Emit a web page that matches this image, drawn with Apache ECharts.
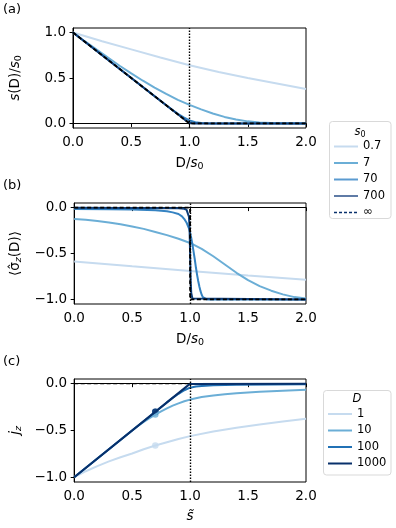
<!DOCTYPE html>
<html>
<head>
<meta charset="utf-8">
<script src="https://cdn.jsdelivr.net/npm/echarts@6/dist/echarts.min.js"></script>
<style>
  html, body { margin: 0; padding: 0; background: #fff; }
  #chart { width: 396px; height: 528px; }
</style>
</head>
<body>
<div id="chart"></div>
<script>
// 数据 (a) s(D)/s0 对 D/s0
const a_s07 = [[0,1],[0.25,0.905],[0.5,0.815],[0.75,0.725],[1,0.64],[1.25,0.565],[1.5,0.5],[1.75,0.44],[2,0.38]]
const a_s7 = [[0,1],[0.1,0.905],[0.2,0.815],[0.3,0.725],[0.4,0.635],[0.5,0.55],[0.6,0.47],[0.7,0.395],[0.8,0.325],[0.9,0.26],[1,0.205],[1.1,0.155],[1.2,0.11],[1.3,0.072],[1.4,0.043],[1.5,0.023],[1.6,0.011],[1.7,0.005],[1.8,0.002],[1.9,0.001],[2,0]]
const a_s70 = [[0,1],[0.8,0.2],[0.85,0.152],[0.9,0.107],[0.95,0.066],[1,0.034],[1.05,0.014],[1.1,0.005],[1.15,0.001],[1.2,0],[2,0]]
const a_s700 = [[0,1],[0.96,0.04],[0.98,0.022],[1,0.008],[1.02,0.002],[1.04,0],[2,0]]
const a_inf = [[0,1],[1,0],[2,0]]

// 数据 (b) <sigma_z(D)>
const b_s07 = [[0,-0.587],[0.5,-0.64],[1,-0.69],[1.5,-0.74],[2,-0.786]]
const b_s7 = [[0,-0.125],[0.1,-0.133],[0.2,-0.145],[0.3,-0.162],[0.4,-0.182],[0.5,-0.205],[0.6,-0.232],[0.7,-0.265],[0.8,-0.3],[0.9,-0.34],[1,-0.385],[1.1,-0.45],[1.2,-0.53],[1.3,-0.62],[1.4,-0.71],[1.5,-0.79],[1.6,-0.855],[1.7,-0.905],[1.8,-0.945],[1.9,-0.975],[2,-0.99]]
const b_s70 = [[0,-0.015],[0.3,-0.017],[0.5,-0.02],[0.7,-0.03],[0.8,-0.04],[0.85,-0.052],[0.9,-0.07],[0.93,-0.095],[0.95,-0.125],[0.97,-0.165],[0.99,-0.225],[1,-0.27],[1.01,-0.33],[1.02,-0.4],[1.03,-0.48],[1.04,-0.56],[1.05,-0.65],[1.06,-0.73],[1.07,-0.8],[1.08,-0.86],[1.09,-0.91],[1.1,-0.95],[1.11,-0.975],[1.12,-0.99],[1.14,-0.998],[1.16,-1],[2,-1]]
const b_s700 = [[0,-0.002],[0.9,-0.006],[0.95,-0.013],[0.97,-0.025],[0.98,-0.045],[0.99,-0.1],[0.995,-0.2],[1,-0.5],[1.005,-0.8],[1.01,-0.93],[1.02,-0.99],[1.03,-1],[2,-1]]
const b_inf = [[0,0],[1,0],[1,-1],[2,-1]]

// 数据 (c) j_z 对 s~
const c_d1 = [[0,-1],[0.1,-0.935],[0.2,-0.88],[0.3,-0.83],[0.4,-0.785],[0.5,-0.745],[0.6,-0.7],[0.7,-0.66],[0.8,-0.625],[0.9,-0.59],[1,-0.56],[1.2,-0.51],[1.4,-0.47],[1.6,-0.435],[1.8,-0.405],[2,-0.375]]
const c_d10 = [[0,-1],[0.5,-0.5],[0.55,-0.452],[0.6,-0.408],[0.65,-0.367],[0.7,-0.33],[0.75,-0.295],[0.8,-0.263],[0.85,-0.235],[0.9,-0.21],[0.95,-0.188],[1,-0.17],[1.1,-0.143],[1.2,-0.125],[1.3,-0.112],[1.4,-0.102],[1.5,-0.094],[1.6,-0.087],[1.7,-0.081],[1.8,-0.075],[1.9,-0.07],[2,-0.065]]
const c_d100 = [[0,-1],[0.8,-0.2],[0.85,-0.152],[0.9,-0.108],[0.95,-0.07],[1,-0.043],[1.05,-0.03],[1.1,-0.024],[1.2,-0.018],[1.4,-0.012],[1.7,-0.008],[2,-0.006]]
const c_d1000 = [[0,-1],[0.99,-0.01],[1.01,-0.003],[2,0]]
const c_ref = [[0,0],[2,0]]
const markS = 0.7
const markJ = [-0.66, -0.33, -0.30, -0.30]

const s0Names = ['0.7', '7', '70', '700', '∞']
const dNames = ['1', '10', '100', '1000']
const yTicksA = [0, 0.5, 1]
const yTicksB = [-1, -0.5, 0]

const FONT = 'DejaVu Sans'
const s0Colors = ['#c6dbef', '#6baed6', '#3583c2', '#0f3f7c', '#000']
const dColors = ['#c6dbef', '#6baed6', '#2171b5', '#08306b']

const fmt = v => (v < 0 ? '\u2212' : '') + Math.abs(v).toFixed(1)

const chartInstance = echarts.init(document.getElementById('chart'))

function xAx(idx, name) {
  return {
    type: 'value', gridIndex: idx, min: 0, max: 2, interval: 0.5,
    name: name, nameLocation: 'middle', nameGap: 27,
    nameTextStyle: {
      fontFamily: FONT, fontSize: 13.5, color: '#000',
      rich: {
        i: { fontFamily: FONT, fontSize: 13.5, fontStyle: 'italic', color: '#000' },
        sub: { fontFamily: FONT, fontSize: 9.5, color: '#000', padding: [7, 0, 0, 0] }
      }
    },
    axisLine: { show: true, lineStyle: { color: '#000', width: 1 } },
    axisTick: { show: true, length: 3.5, lineStyle: { color: '#000' } },
    axisLabel: { fontFamily: FONT, fontSize: 13.5, color: '#000', margin: 7, formatter: fmt },
    splitLine: { show: false }
  }
}

function yAx(idx, name, min, max, ticks) {
  return {
    type: 'value', gridIndex: idx, min: min, max: max,
    name: name, nameLocation: 'middle', nameGap: 49, nameRotate: 90,
    nameTextStyle: {
      fontFamily: FONT, fontSize: 13.5, color: '#000',
      rich: {
        i: { fontFamily: FONT, fontSize: 13.5, fontStyle: 'italic', color: '#000' },
        sub: { fontFamily: FONT, fontSize: 9.5, color: '#000', padding: [7, 0, 0, 0] },
        subi: { fontFamily: FONT, fontSize: 9.5, fontStyle: 'italic', color: '#000', padding: [7, 0, 0, 0] }
      }
    },
    axisLine: { show: true, lineStyle: { color: '#000', width: 1 } },
    axisTick: { show: true, length: 3.5, lineStyle: { color: '#000' }, customValues: ticks },
    axisLabel: { fontFamily: FONT, fontSize: 13.5, color: '#000', margin: 7, formatter: fmt, customValues: ticks },
    splitLine: { show: false }
  }
}

// 竖直点线 x = 1
const vline = {
  silent: true, symbol: 'none', animation: false,
  label: { show: false },
  lineStyle: { color: '#000', width: 1.4, type: [1.5, 1.5] },
  data: [{ xAxis: 1 }]
}

function line(name, data, idx, color, width, opts) {
  return Object.assign({
    type: 'line', name: name, data: data, xAxisIndex: idx, yAxisIndex: idx,
    symbol: 'none',
    lineStyle: { color: color, width: width },
    itemStyle: { color: color },
    animation: false
  }, opts || {})
}

const dashed = { lineStyle: { color: '#000', width: 1.8, type: [4, 2.5] } }
const series = []
const aData = [a_s07, a_s7, a_s70, a_s700]
const bData = [b_s07, b_s7, b_s70, b_s700]
aData.forEach((d, i) => series.push(line(s0Names[i], d, 0, s0Colors[i], 2, i === 0 ? { markLine: vline } : {})))
series.push(line('∞', a_inf, 0, '#000', 1.8, dashed))
bData.forEach((d, i) => series.push(line(s0Names[i], d, 1, s0Colors[i], 2, i === 0 ? { markLine: vline } : {})))
series.push(line('∞', b_inf, 1, '#000', 1.8, dashed))
series.push(line('ref', c_ref, 2, '#000', 1.2, { lineStyle: { color: '#000', width: 1.2, type: [4, 2.5] }, markLine: vline }))
const cData = [c_d1, c_d10, c_d100, c_d1000]
cData.forEach((d, i) => series.push(line(dNames[i], d, 2, dColors[i], 2)))
series.push({
  type: 'scatter', name: 'marks', xAxisIndex: 2, yAxisIndex: 2, symbolSize: 6.5, animation: false,
  data: markJ.map((v, i) => ({ value: [markS, v], itemStyle: { color: dColors[i] } }))
})

const legendText = { fontFamily: FONT, fontSize: 11.5, color: '#000', lineHeight: 12 }

const option = {
  backgroundColor: '#fff',
  animation: false,
  grid: [
    { left: 73, top: 28, width: 233, height: 100, show: true, borderColor: '#000', borderWidth: 1 },
    { left: 73, top: 203, width: 233, height: 101, show: true, borderColor: '#000', borderWidth: 1 },
    { left: 73, top: 379, width: 233, height: 103, show: true, borderColor: '#000', borderWidth: 1 }
  ],
  xAxis: [xAx(0, 'D/{i|s}{sub|0}'), xAx(1, 'D/{i|s}{sub|0}'), xAx(2, '{i|s\u0303}')],
  yAxis: [
    yAx(0, '{i|s}(D)/{i|s}{sub|0}', -0.05, 1.05, yTicksA),
    yAx(1, '\u27e8\u03c3\u0302{subi|z}(D)\u27e9', -1.05, 0.05, yTicksB),
    yAx(2, '{i|j}{subi|z}', -1.05, 0.05, yTicksB)
  ],
  legend: [
    {
      orient: 'vertical', left: 333, top: 140.5, padding: 0, z: 10,
      itemWidth: 24, itemHeight: 12, itemGap: 4.5, textStyle: legendText,
      itemStyle: { opacity: 0 },
      data: [
        { name: '0.7' }, { name: '7' },
        { name: '70', lineStyle: { color: '#5b9bd0' } },
        { name: '700', lineStyle: { color: '#5f7ba6' } },
        { name: '∞', lineStyle: { color: '#08306b', width: 1.5, type: [3, 2] } }
      ]
    },
    {
      orient: 'vertical', left: 327, top: 408, padding: 0, z: 10,
      itemWidth: 24, itemHeight: 12, itemGap: 4.5, textStyle: legendText,
      itemStyle: { opacity: 0 },
      data: dNames
    }
  ],
  graphic: [
    { type: 'text', left: 3, top: 3, style: { text: '(a)', font: '13px "DejaVu Sans"', fill: '#000' } },
    { type: 'text', left: 3, top: 179, style: { text: '(b)', font: '13px "DejaVu Sans"', fill: '#000' } },
    { type: 'text', left: 3, top: 355, style: { text: '(c)', font: '13px "DejaVu Sans"', fill: '#000' } },
    { type: 'rect', z: 0, shape: { x: 329.5, y: 121.5, width: 61.5, height: 97, r: 3 }, style: { fill: '#fff', stroke: '#d9d9d9', lineWidth: 1 } },
    { type: 'text', z: 1, x: 360, y: 132, style: { text: '{i|s}{sub|0}', align: 'center', verticalAlign: 'middle',
      rich: { i: { font: 'italic 11.5px "DejaVu Sans"', fill: '#000' }, sub: { font: '8px "DejaVu Sans"', fill: '#000', padding: [6, 0, 0, 0] } } } },
    { type: 'rect', z: 0, shape: { x: 323.5, y: 390.5, width: 67.5, height: 84.5, r: 3 }, style: { fill: '#fff', stroke: '#d9d9d9', lineWidth: 1 } },
    { type: 'text', z: 1, x: 357, y: 399.5, style: { text: 'D', font: 'italic 11.5px "DejaVu Sans"', fill: '#000', align: 'center', verticalAlign: 'middle' } }
  ],
  series: series
}
chartInstance.setOption(option)
</script>
</body>
</html>
